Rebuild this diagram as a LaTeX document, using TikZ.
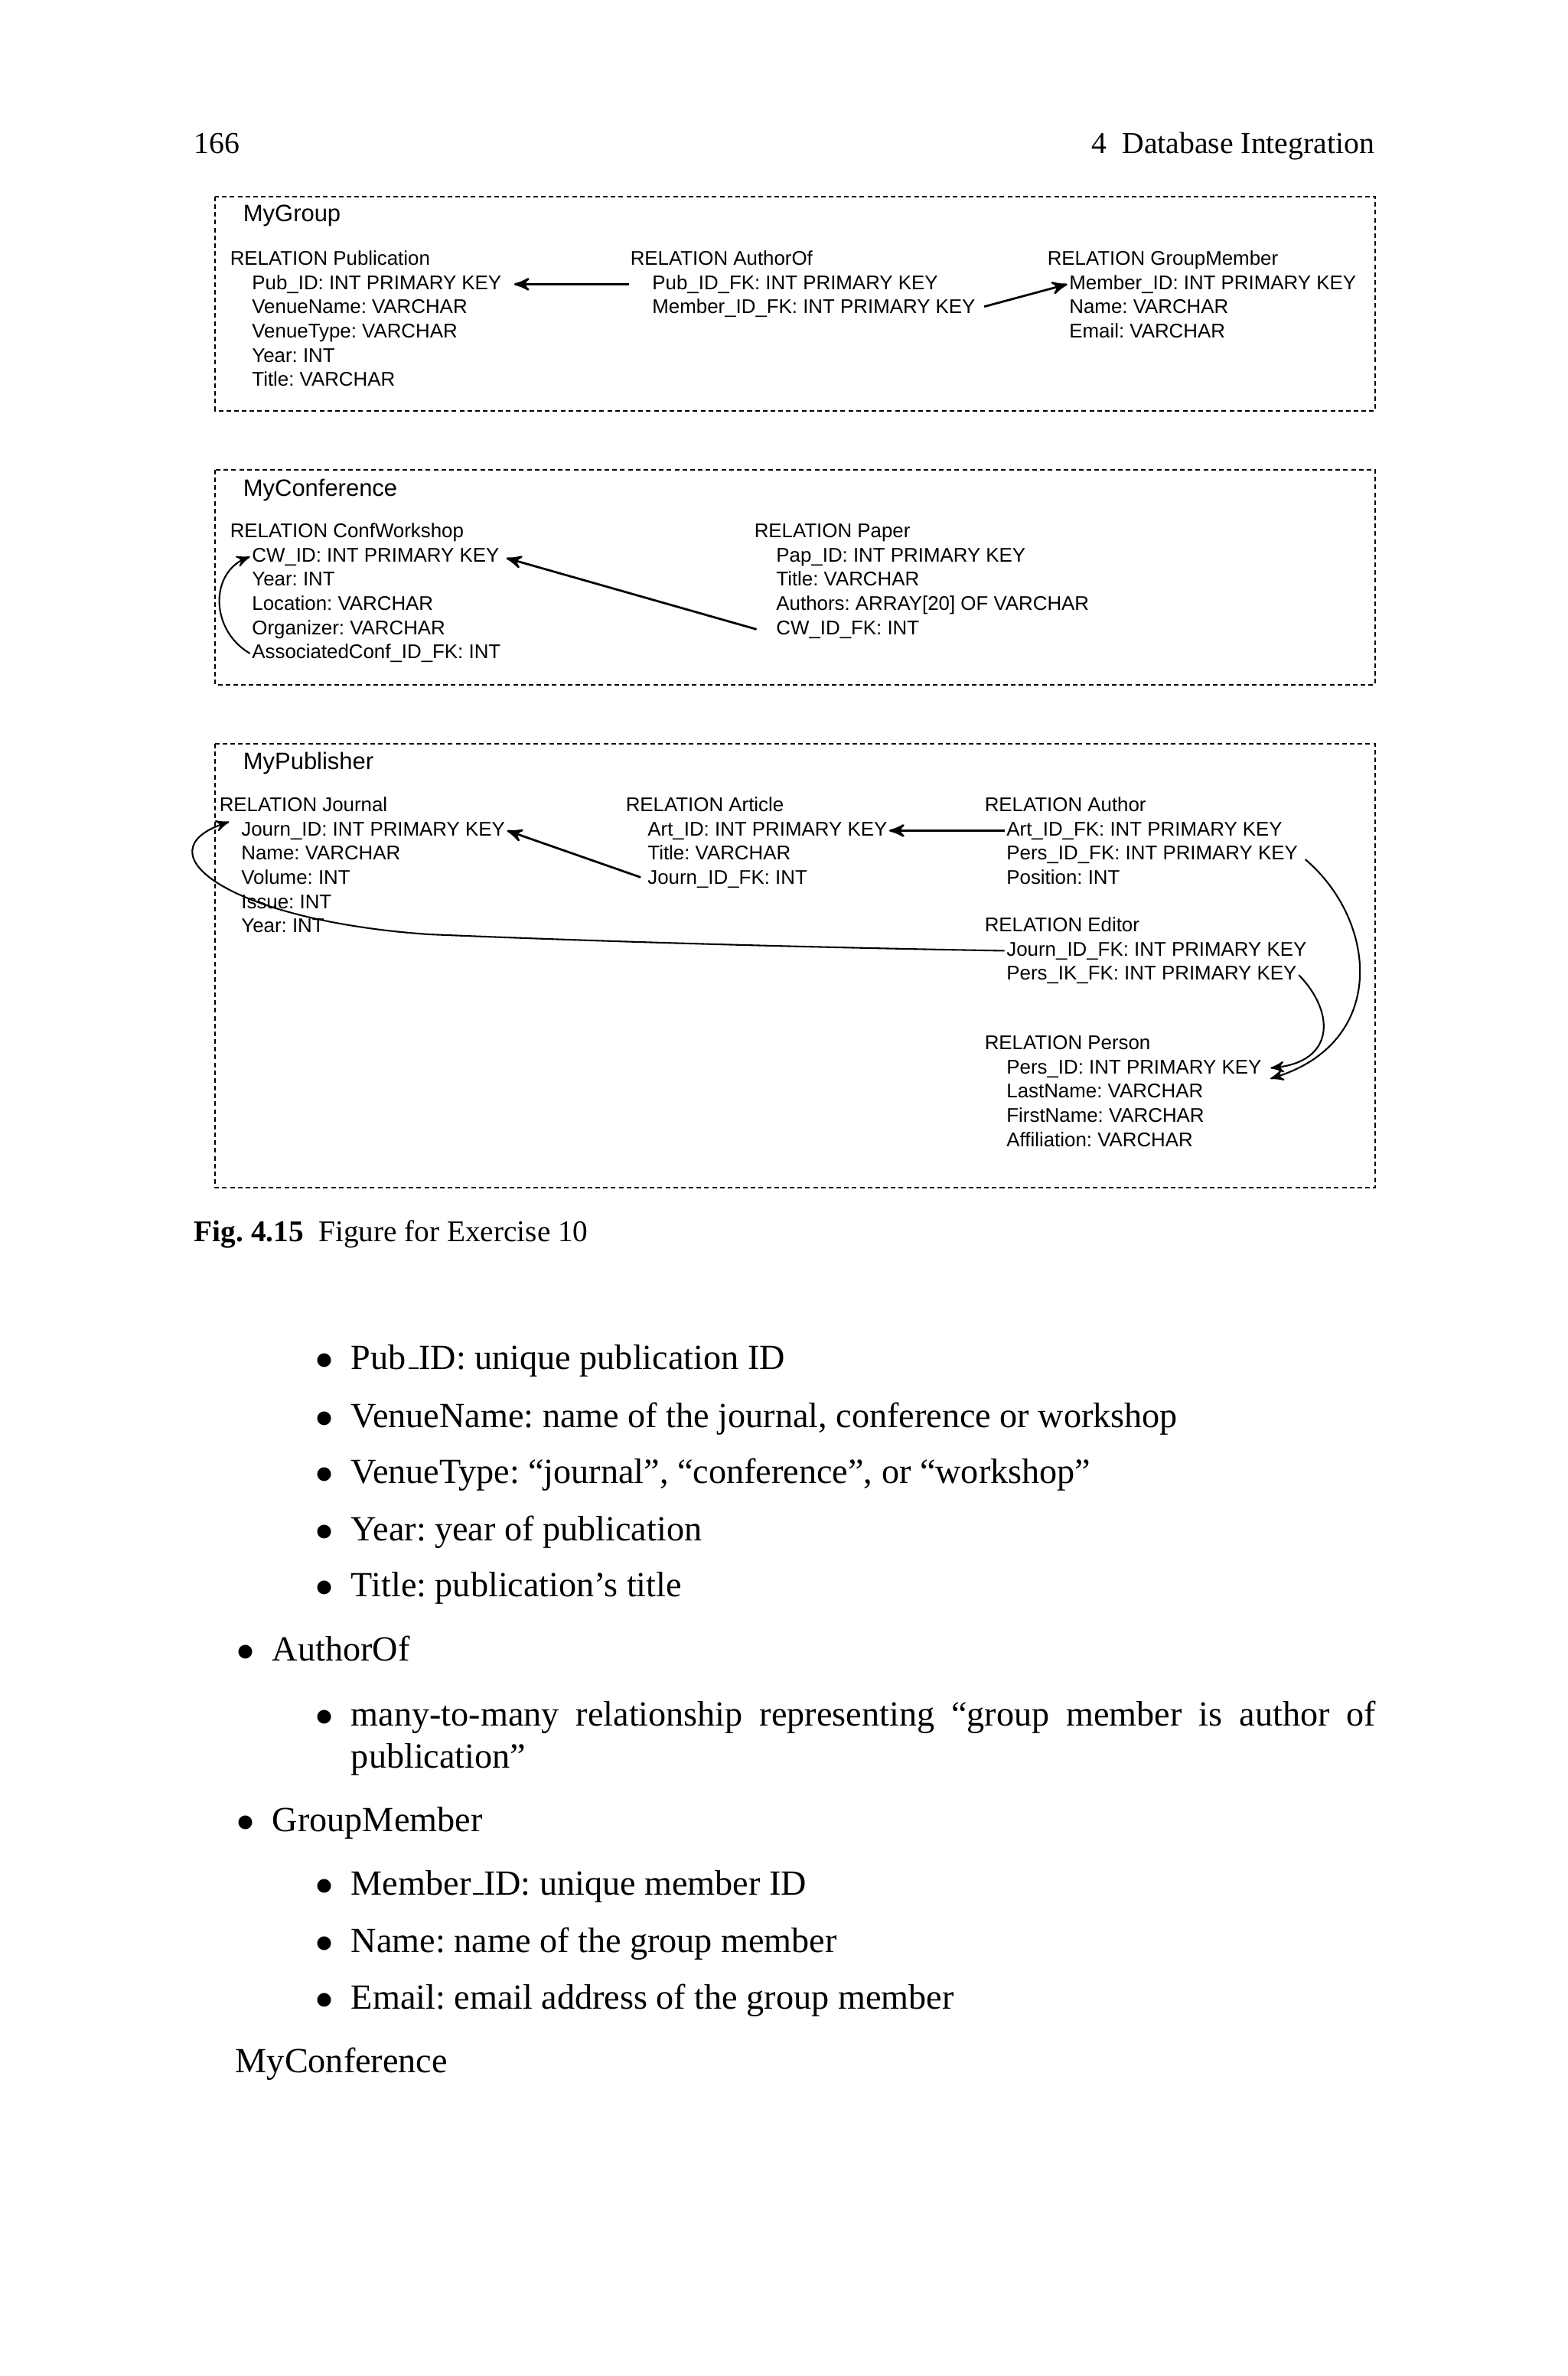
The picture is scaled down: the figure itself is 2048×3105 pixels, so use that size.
\documentclass[tikz,border=0pt]{standalone}
\usepackage{fontspec}
\setmainfont{Liberation Serif}
\setsansfont{Liberation Sans}
\usetikzlibrary{arrows}
\frenchspacing

\newcommand{\itembul}{\llap{$\bullet$\hspace{5pt}}}
\newcommand{\bodyus}{\leavevmode\kern.06em\vbox{\hrule width.3em}}

\begin{document}
\begin{tikzpicture}[x=0.2165pt,y=-0.2165pt,>=stealth',
    grp/.style={dash pattern=on 1.3pt off 0.9pt,line width=0.45pt},
    grp title/.style={font=\sffamily\fontsize{6.7}{8}\selectfont,anchor=west,inner sep=0pt},
    rel/.style={font=\sffamily\fontsize{5.6}{6.8}\selectfont,anchor=north west,
      text height=4.4pt,text depth=1.45pt,inner xsep=0.6pt,inner ysep=0.5pt,outer sep=0pt},
    fk/.style={->,line width=0.6pt},
    fk loop/.style={->,line width=0.45pt},
    page text/.style={anchor=base west,inner sep=0pt,font=\fontsize{10}{12}\selectfont}]

  \path[use as bounding box,fill=white] (0,0) rectangle (2048,3105);

  % running head
  \node[page text,font=\fontsize{8.6}{10}\selectfont] (pageno) at (253,201) {166};
  \node[page text,anchor=base east,font=\fontsize{8.6}{10}\selectfont] (chapter) at (1797,201) {4\enspace Database Integration};

  % MyGroup
  \draw[grp] (281,257) rectangle (1797,537);
  \node[grp title] (myGroup) at (317,282) {MyGroup};

  \node[rel] (pub) at (298,324) {RELATION Publication};
  \node[rel] (pub1) at ([xshift=6.2pt]pub.south west) {Pub\_ID: INT PRIMARY KEY};
  \node[rel] (pub2) at (pub1.south west) {VenueName: VARCHAR};
  \node[rel] (pub3) at (pub2.south west) {VenueType: VARCHAR};
  \node[rel] (pub4) at (pub3.south west) {Year: INT};
  \node[rel] (pub5) at (pub4.south west) {Title: VARCHAR};

  \node[rel] (aut) at (821,324) {RELATION AuthorOf};
  \node[rel] (aut1) at ([xshift=6.2pt]aut.south west) {Pub\_ID\_FK: INT PRIMARY KEY};
  \node[rel] (aut2) at (aut1.south west) {Member\_ID\_FK: INT PRIMARY KEY};

  \node[rel] (mem) at (1366,324) {RELATION GroupMember};
  \node[rel] (mem1) at ([xshift=6.2pt]mem.south west) {Member\_ID: INT PRIMARY KEY};
  \node[rel] (mem2) at (mem1.south west) {Name: VARCHAR};
  \node[rel] (mem3) at (mem2.south west) {Email: VARCHAR};

  \draw[fk,shorten >=3pt] ([xshift=-6pt]aut1.west) -- (pub1.east);
  \draw[fk,shorten <=2pt] (aut2.east) -- (mem1.west);

  % MyConference
  \draw[grp] (281,614) rectangle (1797,895);
  \node[grp title] (myConf) at (317,641) {MyConference};

  \node[rel] (cw) at (298,680) {RELATION ConfWorkshop};
  \node[rel] (cw1) at ([xshift=6.2pt]cw.south west) {CW\_ID: INT PRIMARY KEY};
  \node[rel] (cw2) at (cw1.south west) {Year: INT};
  \node[rel] (cw3) at (cw2.south west) {Location: VARCHAR};
  \node[rel] (cw4) at (cw3.south west) {Organizer: VARCHAR};
  \node[rel] (cw5) at (cw4.south west) {AssociatedConf\_ID\_FK: INT};

  \node[rel] (pap) at (983,680) {RELATION Paper};
  \node[rel] (pap1) at ([xshift=6.2pt]pap.south west) {Pap\_ID: INT PRIMARY KEY};
  \node[rel] (pap2) at (pap1.south west) {Title: VARCHAR};
  \node[rel] (pap3) at (pap2.south west) {Authors: ARRAY[20] OF VARCHAR};
  \node[rel] (pap4) at (pap3.south west) {CW\_ID\_FK: INT};

  \draw[fk,shorten >=1.5pt] ([xshift=-5pt]pap4.west) -- (cw1.east);
  \draw[fk loop] (cw5.west) .. controls (274,823) and (274,748) .. (cw1.west);

  % MyPublisher
  \draw[grp] (281,972) rectangle (1797,1552);
  \node[grp title] (myPub) at (317,997) {MyPublisher};

  \node[rel] (jou) at (284,1038) {RELATION Journal};
  \node[rel] (jou1) at ([xshift=6.2pt]jou.south west) {Journ\_ID: INT PRIMARY KEY};
  \node[rel] (jou2) at (jou1.south west) {Name: VARCHAR};
  \node[rel] (jou3) at (jou2.south west) {Volume: INT};
  \node[rel] (jou4) at (jou3.south west) {Issue: INT};
  \node[rel] (jou5) at (jou4.south west) {Year: INT};

  \node[rel] (art) at (815,1038) {RELATION Article};
  \node[rel] (art1) at ([xshift=6.2pt]art.south west) {Art\_ID: INT PRIMARY KEY};
  \node[rel] (art2) at (art1.south west) {Title: VARCHAR};
  \node[rel] (art3) at (art2.south west) {Journ\_ID\_FK: INT};

  \node[rel] (auth) at (1284,1038) {RELATION Author};
  \node[rel] (auth1) at ([xshift=6.2pt]auth.south west) {Art\_ID\_FK: INT PRIMARY KEY};
  \node[rel] (auth2) at (auth1.south west) {Pers\_ID\_FK: INT PRIMARY KEY};
  \node[rel] (auth3) at (auth2.south west) {Position: INT};

  \node[rel] (edi) at (1284,1195) {RELATION Editor};
  \node[rel] (edi1) at ([xshift=6.2pt]edi.south west) {Journ\_ID\_FK: INT PRIMARY KEY};
  \node[rel] (edi2) at (edi1.south west) {Pers\_IK\_FK: INT PRIMARY KEY};

  \node[rel] (per) at (1284,1349) {RELATION Person};
  \node[rel] (per1) at ([xshift=6.2pt]per.south west) {Pers\_ID: INT PRIMARY KEY};
  \node[rel] (per2) at (per1.south west) {LastName: VARCHAR};
  \node[rel] (per3) at (per2.south west) {FirstName: VARCHAR};
  \node[rel] (per4) at (per3.south west) {Affiliation: VARCHAR};

  \draw[fk,shorten <=1.5pt] (art3.west) -- (jou1.east);
  \draw[fk] (auth1.west) -- (art1.east);
  \draw[fk loop,shorten <=2pt,shorten >=2pt] (auth2.east) .. controls (1800,1203) and (1815,1363) .. (per1.south east);
  \draw[fk loop,shorten >=2pt] (edi2.east) .. controls (1745,1323) and (1745,1388) .. (per1.east);
  \draw[fk loop,shorten >=3pt] (edi1.west) .. controls (1000,1237) and (750,1229) .. (560,1221)
    .. controls (300,1203) and (180,1113) .. (jou1.north west);

  % caption
  \node[page text,font=\fontsize{8.5}{10}\selectfont] (caption) at (253,1622)
    {\textbf{Fig. 4.15}\enspace Figure for Exercise 10};

  % body text
  \node[page text] (bPubID) at (458,1789) {\itembul Pub\bodyus ID: unique publication ID};
  \node[page text] (bVenueName) at (458,1865) {\itembul VenueName: name of the journal, conference or workshop};
  \node[page text] (bVenueType) at (458,1938) {\itembul VenueType: ``journal'', ``conference'', or ``workshop''};
  \node[page text] (bYear) at (458,2013) {\itembul Year: year of publication};
  \node[page text] (bTitle) at (458,2086) {\itembul Title: publication's title};
  \node[page text] (bAuthorOf) at (355,2170) {\itembul AuthorOf};
  \node[page text,text width=289.9pt,align=justify] (bMany) at (458,2255)
    {\itembul many-to-many relationship representing ``group member is author of\linebreak publication''};
  \node[page text] (bGroupMember) at (355,2393) {\itembul GroupMember};
  \node[page text] (bMemberID) at (458,2476) {\itembul Member\bodyus ID: unique member ID};
  \node[page text] (bName) at (458,2551) {\itembul Name: name of the group member};
  \node[page text] (bEmail) at (458,2625) {\itembul Email: email address of the group member};
  \node[page text] (bMyConf) at (307,2708) {MyConference};
\end{tikzpicture}
\end{document}
